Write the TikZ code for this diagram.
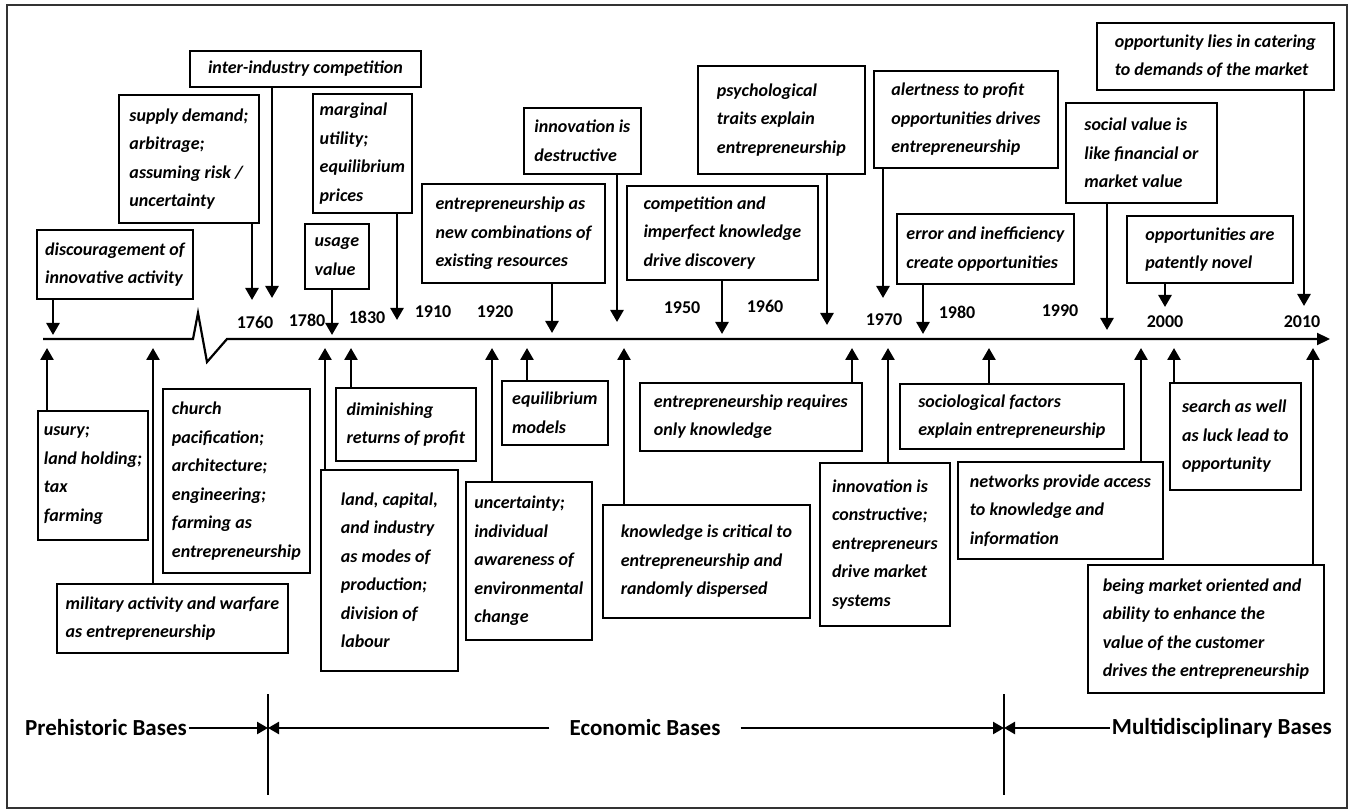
\documentclass[tikz,border=0pt]{standalone}
\usepackage{fontspec}
\setmainfont{Carlito}
\usetikzlibrary{arrows.meta}

\tikzset{
  ideabox/.style={draw, line width=1.8pt, anchor=north west, align=left,
    inner xsep=6pt, inner ysep=3pt,
    font=\bfseries\itshape\fontsize{18}{28.5}\selectfont},
  pointer/.style={line width=2.6pt, -{Triangle[width=13pt,length=12pt]}},
  eraarrow/.style={line width=2.4pt, -{Triangle[width=12pt,length=11pt]}},
  yearlabel/.style={font=\bfseries\fontsize{18}{22}\selectfont},
  baselabel/.style={font=\bfseries\fontsize{23}{28}\selectfont, inner xsep=2pt}
}

\begin{document}
\begin{tikzpicture}[x=1pt,y=-1pt]
  \useasboundingbox (0,0) rectangle (1353,810);
  \draw[line width=2pt, black!80] (7,5) rectangle (1347,808);

  % time line with the break
  \coordinate (tl-start) at (43,339);
  \coordinate (tl-end) at (1330,339);
  \draw[line width=2.2pt, -{Triangle[width=12pt,length=13pt]}] (tl-start) -- (193,339) -- (198,313) -- (207,362) -- (227,339) -- (tl-end);

  % years
  \node[yearlabel] (y1760) at (255,322) {1760};
  \node[yearlabel] (y1780) at (307,320) {1780};
  \node[yearlabel] (y1830) at (367,317) {1830};
  \node[yearlabel] (y1910) at (433,312) {1910};
  \node[yearlabel] (y1920) at (495,312) {1920};
  \node[yearlabel] (y1950) at (682,308) {1950};
  \node[yearlabel] (y1960) at (765,306) {1960};
  \node[yearlabel] (y1970) at (884,320) {1970};
  \node[yearlabel] (y1980) at (957,312) {1980};
  \node[yearlabel] (y1990) at (1060,311) {1990};
  \node[yearlabel] (y2000) at (1165,322) {2000};
  \node[yearlabel] (y2010) at (1302,322) {2010};

  % ideas above the line
  \node[ideabox, minimum width=156, minimum height=69] (discourage) at (36,229) {discouragement of\\innovative activity};
  \node[ideabox, minimum width=140, minimum height=128] (supply) at (118,94) {supply demand;\\arbitrage;\\assuming risk /\\uncertainty};
  \node[ideabox, minimum width=231, minimum height=36] (interind) at (189,50) {inter-industry competition};
  \node[ideabox, minimum width=99, minimum height=119] (marginal) at (312,93) {marginal\\utility;\\equilibrium\\prices};
  \node[ideabox, minimum width=64, minimum height=65] (usage) at (304,223) {usage\\value};
  \node[ideabox, minimum width=183, minimum height=99] (combin) at (421,183) {entrepreneurship as\\new combinations of\\existing resources};
  \node[ideabox, minimum width=117, minimum height=66] (destruct) at (523,107) {innovation is\\destructive};
  \node[ideabox, minimum width=191, minimum height=94] (imperfect) at (626,185) {competition and\\imperfect knowledge\\drive discovery};
  \node[ideabox, minimum width=167, minimum height=108] (psych) at (697,65) {psychological\\traits explain\\entrepreneurship};
  \node[ideabox, minimum width=184, minimum height=97] (alert) at (873,70) {alertness to profit\\opportunities drives\\entrepreneurship};
  \node[ideabox, minimum width=177, minimum height=70] (error) at (896,213) {error and inefficiency\\create opportunities};
  \node[ideabox, minimum width=151, minimum height=100] (social) at (1065,102) {social value is\\like financial or\\market value};
  \node[ideabox, minimum width=166, minimum height=67] (novel) at (1126,215) {opportunities are\\patently novel};
  \node[ideabox, minimum width=237, minimum height=67] (catering) at (1096,22) {opportunity lies in catering\\to demands of the market};

  % ideas below the line
  \node[ideabox, minimum width=109, minimum height=129] (usury) at (37,410) {usury;\\land holding;\\tax\\farming};
  \node[ideabox, minimum width=231, minimum height=69] (military) at (56,583) {military activity and warfare\\as entrepreneurship};
  \node[ideabox, minimum width=147, minimum height=184] (church) at (162,388) {church\\pacification;\\architecture;\\engineering;\\farming as\\entrepreneurship};
  \node[ideabox, minimum width=140, minimum height=73] (diminish) at (335,387) {diminishing\\returns of profit};
  \node[ideabox, minimum width=137, minimum height=201] (landcap) at (320,469) {land, capital,\\and industry\\as modes of\\production;\\division of\\labour};
  \node[ideabox, minimum width=106, minimum height=64] (equil) at (501,380) {equilibrium\\models};
  \node[ideabox, minimum width=126, minimum height=158] (uncert) at (465,481) {uncertainty;\\individual\\awareness of\\environmental\\change};
  \node[ideabox, minimum width=207, minimum height=113] (knowcrit) at (602,504) {knowledge is critical to\\entrepreneurship and\\randomly dispersed};
  \node[ideabox, minimum width=222, minimum height=68] (onlyknow) at (639,382) {entrepreneurship requires\\only knowledge};
  \node[ideabox, minimum width=130, minimum height=163] (construct) at (819,462) {innovation is\\constructive;\\entrepreneurs\\drive market\\systems};
  \node[ideabox, minimum width=224, minimum height=65] (socio) at (899,383) {sociological factors\\explain entrepreneurship};
  \node[ideabox, minimum width=205, minimum height=97] (networks) at (957,461) {networks provide access\\to knowledge and\\information};
  \node[ideabox, minimum width=131, minimum height=107] (search) at (1169,382) {search as well\\as luck lead to\\opportunity};
  \node[ideabox, minimum width=236, minimum height=128] (oriented) at (1087,564) {being market oriented and\\ ability to enhance the\\value of the customer\\drives the entrepreneurship};

  % pointers onto the time line
  \foreach \b/\x/\t in {discourage/53/335, supply/252/300, interind/272/298, marginal/397/320,
      usage/332/335, combin/552/333, destruct/617/322, imperfect/722/334, psych/827/325,
      alert/883/298, error/923/334, social/1107/330, novel/1165/307, catering/1304/306}
    {\coordinate (\b-tip) at (\x,\t);
     \draw[pointer] (\x,0 |- \b.south) -- (\b-tip);}
  \foreach \b/\x in {usury/47, military/153, diminish/351, landcap/325, equil/527, uncert/492,
      knowcrit/624, onlyknow/852, construct/888, socio/989, networks/1141, search/1174, oriented/1313}
    {\coordinate (\b-tip) at (\x,348);
     \draw[pointer] (\x,0 |- \b.north) -- (\b-tip);}

  % eras
  \coordinate (cutA) at (268,694);
  \coordinate (cutAend) at (268,795);
  \coordinate (cutB) at (1004,694);
  \coordinate (cutBend) at (1004,795);
  \draw[line width=2pt] (cutA) -- (cutAend);
  \draw[line width=2pt] (cutB) -- (cutBend);

  \node[baselabel, anchor=west] (prehist) at (23,728) {Prehistoric Bases};
  \node[baselabel, inner xsep=20pt] (econ) at (645,728) {Economic Bases};
  \node[baselabel, anchor=east] (multi) at (1334,728) {Multidisciplinary Bases};

  \draw[eraarrow] (prehist.east) -- (prehist.east -| cutA);
  \draw[eraarrow] (econ.west) -- (econ.west -| cutA);
  \draw[eraarrow] (econ.east) -- (econ.east -| cutB);
  \draw[eraarrow] (multi.west) -- (multi.west -| cutB);
\end{tikzpicture}
\end{document}
